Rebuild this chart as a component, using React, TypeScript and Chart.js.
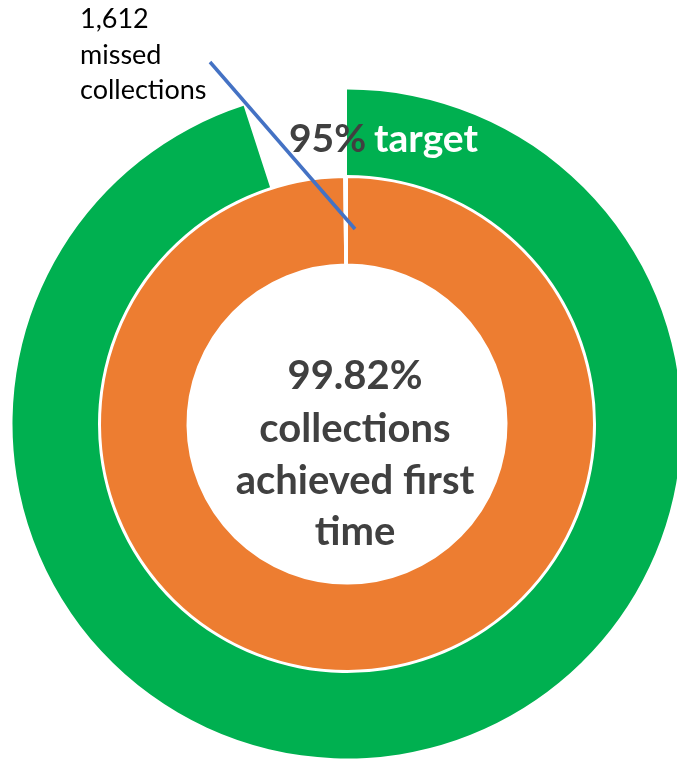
import React, { useEffect, useRef } from 'react';
import { Chart, registerables } from 'chart.js';

Chart.register(...registerables);

// ---- data ----
const targetLabels = ['Target', 'Below target'];
const targetValues = [95, 5];
const achievedLabels = ['Collected first time', 'Missed'];
const achievedValues = [99.82, 0.18];
const calloutLines = ['1,612', 'missed', 'collections'];
const centerLines = ['99.82%', 'collections', 'achieved first', 'time'];
const targetValueText = '95%';
const targetWordText = 'target';

// ---- styles ----
const GREEN = '#00B050';
const ORANGE = '#ED7D31';
const BLUE = '#4472C4';
const DARK = '#404040';
const FONT = 'Lato, "Open Sans", "DejaVu Sans", sans-serif';

export default function App() {
  const ref = useRef<HTMLCanvasElement | null>(null);

  useEffect(() => {
    const canvas = ref.current;
    if (!canvas) return;

    const overlay = {
      id: 'overlay',
      afterDraw(chart: any) {
        const ctx = chart.ctx as CanvasRenderingContext2D;
        const arc = chart.getDatasetMeta(0).data[0] as any;
        const cx = arc.x;
        const cy = arc.y;
        ctx.save();

        // leader line
        ctx.strokeStyle = BLUE;
        ctx.lineWidth = 3.5;
        ctx.beginPath();
        ctx.moveTo(cx - 137, cy - 362);
        ctx.lineTo(cx + 8, cy - 195);
        ctx.stroke();

        // 95% target
        ctx.textBaseline = 'alphabetic';
        ctx.textAlign = 'left';
        ctx.font = `bold 39px ${FONT}`;
        ctx.fillStyle = DARK;
        ctx.fillText(targetValueText, cx - 58, cy - 272);
        ctx.fillStyle = '#FFFFFF';
        ctx.fillText(targetWordText, cx + 27, cy - 272);

        // center text
        ctx.textAlign = 'center';
        ctx.fillStyle = DARK;
        ctx.font = `bold 40px ${FONT}`;
        const baselines = [389, 442, 494, 545];
        centerLines.forEach((t, i) => ctx.fillText(t, cx + 8, baselines[i]));

        // callout text
        ctx.textAlign = 'left';
        ctx.fillStyle = '#000000';
        ctx.font = `27px ${FONT}`;
        calloutLines.forEach((t, i) => ctx.fillText(t, 80, 28 + i * 35.5));

        ctx.restore();
      },
    };

    const chart = new Chart(canvas, {
      type: 'doughnut',
      data: {
        labels: achievedLabels,
        datasets: [
          {
            label: 'Target',
            data: targetValues,
            backgroundColor: [GREEN, 'rgba(0,0,0,0)'],
            borderWidth: 0,
            hoverBorderWidth: 0,
            hoverOffset: 0,
            offset: 0,
            weight: 85.5,
          } as any,
          {
            label: 'spacer',
            data: [1],
            backgroundColor: 'rgba(0,0,0,0)',
            borderWidth: 0,
            hoverBorderWidth: 0,
            hoverOffset: 0,
            weight: 2,
          } as any,
          {
            label: 'Achieved',
            data: achievedValues,
            backgroundColor: [ORANGE, '#FFFFFF'],
            borderColor: '#FFFFFF',
            borderWidth: 2,
            hoverBorderWidth: 2,
            hoverOffset: 0,
            weight: 87.5,
          } as any,
        ],
      },
      options: {
        responsive: false,
        animation: false,
        events: [],
        cutout: 159.5,
        layout: { padding: { left: 12.5, top: 89.5, right: 18.5, bottom: 0.5 } },
        plugins: {
          legend: { display: false },
          tooltip: { enabled: false },
        },
      } as any,
      plugins: [overlay],
    });

    return () => chart.destroy();
  }, []);

  return (
    <div
      style={{
        position: 'absolute',
        left: 0,
        top: 0,
        width: 677,
        height: 759,
        overflow: 'hidden',
        background: '#ffffff',
      }}
    >
      <canvas ref={ref} width={700} height={759} style={{ display: 'block' }} />
    </div>
  );
}
